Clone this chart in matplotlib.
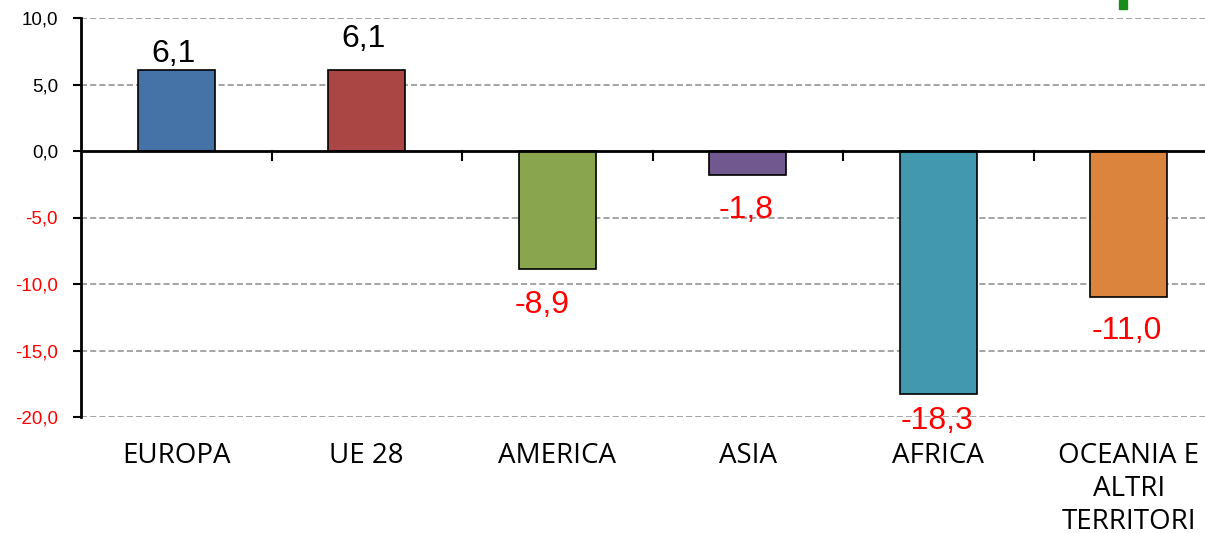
import matplotlib.pyplot as plt
import matplotlib.transforms as mtransforms
from matplotlib.patches import Rectangle
import numpy as np

categories = ['EUROPA', 'UE 28', 'AMERICA', 'ASIA', 'AFRICA', 'OCEANIA E\nALTRI\nTERRITORI']
values = [6.1, 6.1, -8.9, -1.8, -18.3, -11.0]
colors = ['#4572A7', '#AA4643', '#89A54E', '#71588F', '#4198AF', '#DB843D']
yticks = [-20, -15, -10, -5, 0, 5, 10]
# label offsets from bar end (x, y), pixels -- labels were hand placed in the original
label_dx = [-3, -3, -15, -2, -1, -2]
label_dy = [8, 23, -44, -43, -35, -42]

W, H = 1205, 533
fig = plt.figure(figsize=(W / 100, H / 100), dpi=100)
ax = fig.add_axes([81 / W, 1 - 417 / H, 1 - 81 / W, (417 - 18) / H])

x = np.arange(len(categories))
ax.bar(x, values, width=0.405, color=colors, edgecolor='black', linewidth=1.2, zorder=3)

ax.set_xlim(-0.5, (W - 81) / 190.5 - 0.5)
ax.set_ylim(-20, 10)

# dashed grid
for v in yticks:
    if v != 0:
        ax.axhline(v, color='#8c8c8c', linestyle=(0, (4, 2)), linewidth=1.1, zorder=1)
ax.axhline(0, color='black', linewidth=2, zorder=4)

for s in ['top', 'right', 'bottom']:
    ax.spines[s].set_visible(False)
ax.spines['left'].set_linewidth(2)
ax.spines['left'].set_zorder(5)

ax.set_yticks(yticks)
ax.set_yticklabels(['{:.1f}'.format(v).replace('.', ',') for v in yticks],
                   fontsize=13.5, family='Liberation Sans')
for lab, v in zip(ax.get_yticklabels(), yticks):
    lab.set_color('red' if v < 0 else 'black')
ax.tick_params(axis='y', length=5.5, width=1.5, direction='out', pad=11)

# boundary ticks on zero line
ax.set_xticks([])
for b in np.arange(0.5, len(categories) - 0.5, 1.0):
    ax.plot([b, b], [0, -0.68], color='black', linewidth=1.5, zorder=4, clip_on=False)

# category labels below plot
trans = mtransforms.blended_transform_factory(ax.transData, ax.transAxes)
for xi, c in zip(x, categories):
    ax.text(xi, -0.062, c, transform=trans, ha='center', va='top',
            fontsize=20, family='Open Sans', linespacing=1.25)

# value labels
for xi, v, dx, dy in zip(x, values, label_dx, label_dy):
    txt = '{:.1f}'.format(v).replace('.', ',')
    ax.annotate(txt, (xi, v), xytext=(dx, dy), textcoords='offset pixels',
                ha='center', va='baseline', fontsize=23, family='Liberation Sans',
                color='black' if v >= 0 else 'red', zorder=6)

# green mark at top right (cropped element)
fig.patches.append(Rectangle((1119 / W, 1 - 9 / H), 8 / W, 9 / H,
                             transform=fig.transFigure, color='#1A8C1A'))

fig.savefig('out.png', dpi=100)
